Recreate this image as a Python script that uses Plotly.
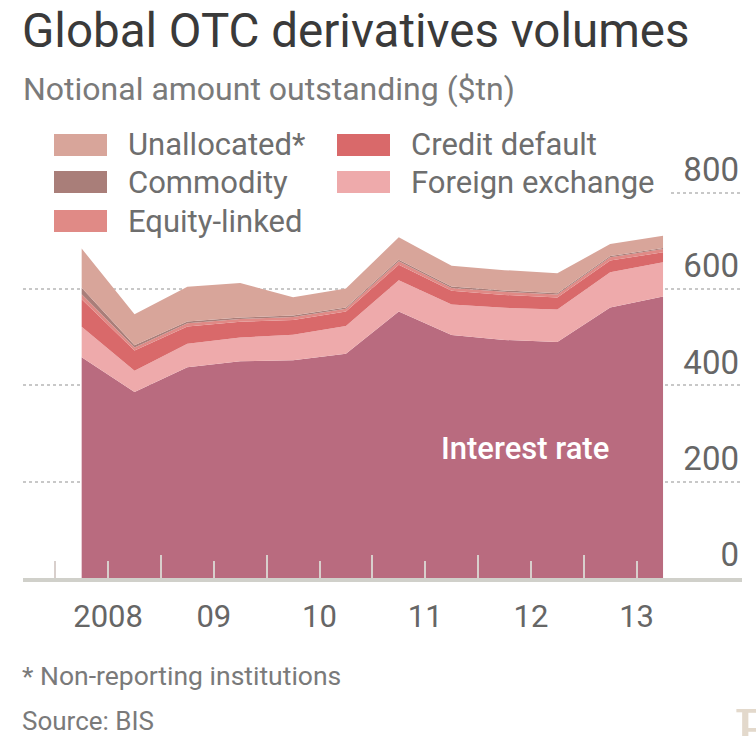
import plotly.graph_objects as go

# ---------------- data ($tn, notional amount outstanding) ----------------
periods = ["Jun 2008", "Dec 2008", "Jun 2009", "Dec 2009", "Jun 2010", "Dec 2010",
           "Jun 2011", "Dec 2011", "Jun 2012", "Dec 2012", "Jun 2013", "Dec 2013"]
interest_rate = [458.3, 385.9, 437.2, 449.9, 451.8, 465.3, 553.2, 504.1, 494.0, 489.7, 561.3, 584.4]
foreign_exchange = [63.0, 44.2, 48.7, 49.2, 53.2, 57.8, 64.7, 63.3, 66.6, 67.4, 73.1, 70.6]
credit_default = [57.4, 41.9, 36.0, 32.7, 30.3, 29.9, 32.4, 28.6, 26.9, 25.1, 24.3, 21.0]
equity_linked = [10.2, 6.5, 6.6, 5.9, 6.3, 5.6, 6.8, 6.0, 6.3, 6.3, 6.8, 6.6]
commodity = [13.2, 4.4, 3.6, 2.9, 2.9, 2.9, 3.2, 3.1, 3.0, 2.6, 2.5, 2.2]
unallocated = [81.6, 64.5, 72.5, 71.5, 38.2, 39.5, 46.6, 42.7, 42.1, 41.5, 24.9, 25.4]

year_labels = ["2008", "09", "10", "11", "12", "13"]
label_years = [2008, 2009, 2010, 2011, 2012, 2013]
y_ticks = [0, 200, 400, 600, 800]

# half-year periods plotted at the centre of each half
def period_pos(p):
    mon, yr = p.split()
    return int(yr) + (0.25 if mon == "Jun" else 0.75)

x = [period_pos(p) for p in periods]

COL = {
    "Interest rate": "#b96b7f",
    "Foreign exchange": "#eeaaab",
    "Credit default": "#d9696a",
    "Equity-linked": "#e08a86",
    "Commodity": "#a97e79",
    "Unallocated*": "#d8a59a",
}

series = [
    ("Interest rate", interest_rate),
    ("Foreign exchange", foreign_exchange),
    ("Credit default", credit_default),
    ("Equity-linked", equity_linked),
    ("Commodity", commodity),
    ("Unallocated*", unallocated),
]

FONT = "Roboto, 'Open Sans', sans-serif"

fig = go.Figure()
for name, vals in series:
    fig.add_trace(go.Scatter(
        x=x, y=vals, name=name, stackgroup="one", mode="lines",
        line=dict(width=0, color=COL[name]), fillcolor=COL[name],
        showlegend=False, hoverinfo="skip"))

# plot-area pixel geometry
W, H = 756, 736
PL, PR, PT, PB = 23, 742, 120, 578
Y800_PX = 192.5          # pixel row of the 800 gridline
y_max = 800 * (PB - PT) / (PB - Y800_PX)

def px(v):
    return (v - PL) / (PR - PL)

def py(v):
    return (PB - v) / (PB - PT)

ann = []
shapes = []

ann.append(dict(text="Global OTC derivatives volumes", x=px(20), y=py(31), xref="paper", yref="paper",
                xanchor="left", yanchor="middle", showarrow=False,
                font=dict(family=FONT, size=47.5, color="#3a3a3a")))
ann.append(dict(text="Notional amount outstanding ($tn)", x=px(21), y=py(89), xref="paper", yref="paper",
                xanchor="left", yanchor="middle", showarrow=False,
                font=dict(family=FONT, size=32, color="#7a7a7a")))

# white legend backdrop (hides the top gridline behind the key, as in the original)
shapes.append(dict(type="rect", xref="paper", yref="paper",
                   x0=px(PL - 2), x1=px(668), y0=py(200), y1=py(186),
                   fillcolor="white", line=dict(width=0), layer="above"))

# custom legend
legend_items = [
    ("Unallocated*", 0, 0), ("Commodity", 0, 1), ("Equity-linked", 0, 2),
    ("Credit default", 1, 0), ("Foreign exchange", 1, 1),
]
col_x = [54, 337]
row_y = [145, 182, 221]
for name, c, r in legend_items:
    x0 = col_x[c]
    yc = row_y[r]
    shapes.append(dict(type="rect", xref="paper", yref="paper",
                       x0=px(x0), x1=px(x0 + 53), y0=py(yc - 11), y1=py(yc + 11),
                       fillcolor=COL[name], line=dict(width=0), layer="above"))
    ann.append(dict(text=name, x=px(x0 + 72), y=py(yc), xref="paper", yref="paper",
                    xanchor="left", yanchor="middle", showarrow=False,
                    font=dict(family=FONT, size=31, color="#6e6e6e")))

ann.append(dict(text="Interest rate", x=px(525), y=py(448), xref="paper", yref="paper",
                xanchor="center", yanchor="middle", showarrow=False,
                font=dict(family=FONT, size=31, color="white", weight=500)))

ann.append(dict(text="* Non-reporting institutions", x=px(20), y=py(675), xref="paper", yref="paper",
                xanchor="left", yanchor="middle", showarrow=False,
                font=dict(family=FONT, size=26.5, color="#7a7a7a")))
ann.append(dict(text="Source: BIS", x=px(20), y=py(721), xref="paper", yref="paper",
                xanchor="left", yanchor="middle", showarrow=False,
                font=dict(family=FONT, size=26, color="#7a7a7a")))
ann.append(dict(text="FT", x=px(731), y=py(694), xref="paper", yref="paper",
                xanchor="left", yanchor="top", showarrow=False,
                font=dict(family="DejaVu Serif, serif", size=62, color="#e3d9cc")))

tick_pos = [label_years[0]] + [yv + 0.5 for yv in label_years]
tick_txt = [""] + year_labels
minor_pos = label_years[1:]

fig.update_layout(
    width=W, height=H,
    margin=dict(l=PL, r=W - PR, t=PT, b=H - PB),
    paper_bgcolor="white", plot_bgcolor="white",
    showlegend=False,
    annotations=ann, shapes=shapes,
    xaxis=dict(
        range=[2007.695, 2014.497], showgrid=False, zeroline=False,
        showline=True, linecolor="#d0d0ca", linewidth=4,
        tickmode="array", tickvals=tick_pos, ticktext=tick_txt,
        ticks="inside", ticklen=17, tickwidth=2, tickcolor="#d8cfcc",
        tickfont=dict(family=FONT, size=31, color="#666666"),
        ticklabelstandoff=8,
        minor=dict(tickmode="array", tickvals=minor_pos, ticks="inside",
                   ticklen=23, tickwidth=2, tickcolor="#d8cfcc"),
        fixedrange=True,
    ),
    yaxis=dict(
        range=[0, y_max], side="right", tickmode="array", tickvals=y_ticks,
        showgrid=True, gridcolor="#c8c8c8", gridwidth=2, griddash="dot",
        zeroline=False, showline=False, ticks="",
        ticklabelposition="inside top",
        tickfont=dict(family=FONT, size=33, color="#666666"),
        fixedrange=True,
    ),
)

fig.write_html("out.html")
